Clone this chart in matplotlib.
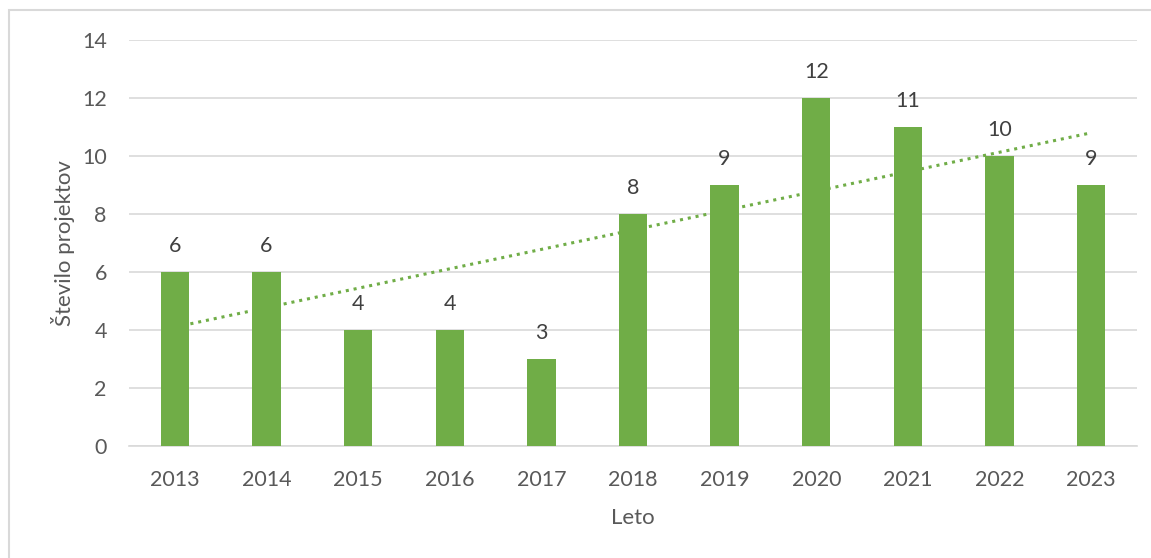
import numpy as np
import matplotlib.pyplot as plt
from matplotlib.patches import Rectangle

plt.rcParams['font.family'] = ['Lato', 'DejaVu Sans']

# Number of projects per year
years = ['2013', '2014', '2015', '2016', '2017', '2018', '2019', '2020', '2021', '2022', '2023']
projects = [6, 6, 4, 4, 3, 8, 9, 12, 11, 10, 9]

# Linear trendline end values
trend_ends = [4.1, 10.8]

green = '#70AD47'
grid_color = '#D9D9D9'

fig = plt.figure(figsize=(11.51, 5.58), dpi=100)
ax = fig.add_axes([0.1121, 0.2007, 0.8757, 0.7276])

x = np.arange(len(years))
ax.bar(x, projects, width=0.31, color=green, zorder=3)

# Trendline (dotted, behind the bars)
ax.plot([x[0], x[-1]], trend_ends, color=green, linestyle=(0, (1, 1.6)),
        linewidth=2.2, zorder=2)

# Data labels
for xi, v in zip(x, projects):
    ax.text(xi, v + 0.9, str(v), ha='center', va='center',
            fontsize=15.5, color='#404040', zorder=4)

ax.set_xlim(-0.5, len(years) - 0.5)
ax.set_ylim(0, 14)
ax.set_yticks(np.arange(0, 15, 2))
ax.set_xticks(x)
ax.set_xticklabels(years)
ax.tick_params(axis='both', length=0, labelsize=15.5, labelcolor='#595959')
ax.tick_params(axis='y', pad=16)
ax.tick_params(axis='x', pad=17)

ax.grid(axis='y', color=grid_color, linewidth=1.2, zorder=0)
ax.set_axisbelow(True)
for side in ['top', 'right', 'left']:
    ax.spines[side].set_visible(False)
ax.spines['bottom'].set_color(grid_color)
ax.spines['bottom'].set_linewidth(1.2)

ax.set_xlabel('Leto', fontsize=16, color='#595959', labelpad=13)
ax.set_ylabel('Število projektov', fontsize=16, color='#595959', labelpad=5)

# Chart area border
fig.patches.append(Rectangle((9 / 1151, -0.05), 1.2, 1 - 10 / 558 + 0.05,
                             transform=fig.transFigure, fill=False,
                             edgecolor=grid_color, linewidth=1.5))

fig.savefig('out.png', dpi=100)
